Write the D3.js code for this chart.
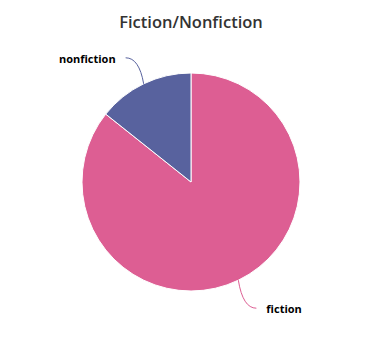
<!DOCTYPE html>
<html>
<head>
<meta charset="utf-8">
<script src="https://cdn.jsdelivr.net/npm/d3@7"></script>
<style>
  body { margin: 0; background: #fff; }
</style>
</head>
<body>
<div id="chart"></div>
<script>
// Getting the data
var categories = ["fiction", "nonfiction"];
var values = [85.7, 14.3];
var colors = ["#dd5e93", "#58629e"];

var width = 371, height = 339;
var cx = 191, cy = 182, radius = 109;

var svg = d3.select("#chart").append("svg")
    .attr("width", width)
    .attr("height", height);

// Title
svg.append("text")
    .attr("x", cx)
    .attr("y", 28)
    .attr("text-anchor", "middle")
    .style("font", "600 16.5px 'Open Sans'")
    .style("fill", "#333")
    .text("Fiction/Nonfiction");

var data = categories.map(function (c, i) { return { name: c, value: values[i], color: colors[i] }; });

var pie = d3.pie().sort(null).value(function (d) { return d.value; });
var arc = d3.arc().innerRadius(0).outerRadius(radius);

var g = svg.append("g").attr("transform", "translate(" + cx + "," + cy + ")");

var arcs = pie(data);

g.selectAll("path.slice")
    .data(arcs)
    .enter().append("path")
    .attr("class", "slice")
    .attr("d", arc)
    .attr("fill", function (d) { return d.data.color; })
    .attr("stroke", "#fff")
    .attr("stroke-width", 1);

// Connectors and labels
function pt(a, r) { return [Math.sin(a) * r, -Math.cos(a) * r]; }

arcs.forEach(function (d) {
    var mid = (d.startAngle + d.endAngle) / 2;
    var side = Math.sin(mid) >= 0 ? 1 : -1;
    var p0 = pt(mid, radius);
    var p1 = pt(mid, radius + 30);
    var end = [p1[0] + side * 5, p1[1] + 1];
    var ctrl = [p0[0] + (end[0] - p0[0]) * 0.25, end[1]];
    g.append("path")
        .attr("d", "M" + p0[0] + "," + p0[1] + "Q" + ctrl[0] + "," + ctrl[1] + " " + end[0] + "," + end[1])
        .attr("fill", "none")
        .attr("stroke", d.data.color)
        .attr("stroke-width", 1);
    g.append("text")
        .attr("x", end[0] + side * 10)
        .attr("y", end[1] + 5)
        .attr("text-anchor", side > 0 ? "start" : "end")
        .style("font", "bold 11px 'Open Sans'")
        .style("fill", "#000")
        .text(d.data.name);
});
</script>
</body>
</html>
